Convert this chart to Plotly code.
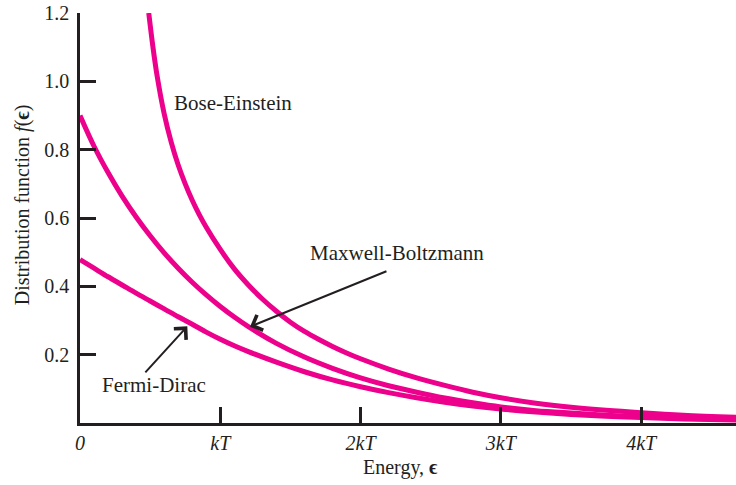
import plotly.graph_objects as go

# Energy in units of kT, distribution values
be_x = [0.49, 0.52, 0.55, 0.60, 0.65, 0.70, 0.75, 0.80, 0.85, 0.90, 1.00, 1.10, 1.20, 1.30, 1.40, 1.50,
        1.60, 1.70, 1.80, 1.90, 2.00, 2.20, 2.40, 2.60, 2.80, 3.00, 3.25, 3.50, 3.75, 4.00, 4.30, 4.68]
be_y = [1.20, 1.10, 1.015, 0.905, 0.822, 0.755, 0.700, 0.652, 0.610, 0.573, 0.508, 0.451, 0.404, 0.363, 0.327, 0.295,
        0.268, 0.245, 0.224, 0.205, 0.188, 0.158, 0.132, 0.110, 0.090, 0.074, 0.058, 0.046, 0.037, 0.030, 0.023, 0.017]

mb_x = [0.00, 0.10, 0.20, 0.30, 0.40, 0.50, 0.60, 0.70, 0.80, 0.90, 1.00, 1.10, 1.20, 1.40, 1.60,
        1.80, 2.00, 2.20, 2.40, 2.60, 2.80, 3.00, 3.25, 3.50, 3.75, 4.00, 4.30, 4.68]
mb_y = [0.900, 0.810, 0.733, 0.664, 0.603, 0.548, 0.498, 0.453, 0.412, 0.375, 0.341, 0.310, 0.282, 0.233, 0.193,
        0.160, 0.132, 0.109, 0.090, 0.073, 0.059, 0.047, 0.036, 0.029, 0.023, 0.018, 0.014, 0.010]

fd_x = [0.00, 0.10, 0.20, 0.30, 0.40, 0.50, 0.60, 0.70, 0.80, 0.90, 1.00, 1.10, 1.20, 1.40, 1.60,
        1.80, 2.00, 2.20, 2.40, 2.60, 2.80, 3.00, 3.25, 3.50, 3.75, 4.00, 4.30, 4.68]
fd_y = [0.478, 0.453, 0.428, 0.404, 0.380, 0.357, 0.334, 0.311, 0.289, 0.266, 0.245, 0.226, 0.209, 0.178, 0.150,
        0.126, 0.106, 0.089, 0.074, 0.061, 0.050, 0.041, 0.032, 0.025, 0.020, 0.016, 0.012, 0.009]

x_tickvals = [0, 1, 2, 3, 4]
x_ticktext = ["<i>0</i>", "<i>kT</i>", "<i>2kT</i>", "<i>3kT</i>", "<i>4kT</i>"]
y_tickvals = [0.2, 0.4, 0.6, 0.8, 1.0, 1.2]
y_ticktext = ["0.2", "0.4", "0.6", "0.8", "1.0", "1.2"]

MAG = "#EC008C"
INK = "#231F20"
FONT = "Liberation Serif"

fig = go.Figure()
for xs, ys, nm in [(be_x, be_y, "Bose-Einstein"), (mb_x, mb_y, "Maxwell-Boltzmann"), (fd_x, fd_y, "Fermi-Dirac")]:
    fig.add_trace(go.Scatter(x=xs, y=ys, mode="lines", name=nm,
                             line=dict(color=MAG, width=5, shape="spline", smoothing=1.0),
                             cliponaxis=True, hoverinfo="skip"))

axis_common = dict(showgrid=False, zeroline=False, showline=True, linecolor=INK, linewidth=2.5,
                   ticks="inside", ticklen=16, tickwidth=2.5, tickcolor=INK, automargin=False,
                   tickfont=dict(family=FONT, size=20, color=INK))

fig.update_layout(
    width=736, height=485,
    margin=dict(l=80, r=0, t=13, b=62),
    paper_bgcolor="white", plot_bgcolor="white",
    showlegend=False,
    font=dict(family=FONT, size=20, color=INK),
    xaxis=dict(range=[0, 4.676], tickvals=x_tickvals, ticktext=x_ticktext, **axis_common),
    yaxis=dict(range=[0, 1.2], tickvals=y_tickvals, ticktext=y_ticktext, ticklabelstandoff=4, **axis_common),
)

annotations = [
    dict(text="Bose-Einstein", x=172, y=103),
    dict(text="Maxwell-Boltzmann", x=308, y=253),
    dict(text="Fermi-Dirac", x=100, y=385),
]
for a in annotations:
    fig.add_annotation(text=a["text"], xref="paper", yref="paper",
                       x=(a["x"] - 80) / 656, y=(422.5 - a["y"]) / 409.5,
                       xanchor="left", yanchor="middle", showarrow=False,
                       font=dict(family=FONT, size=21, color=INK))

# axis titles
fig.add_annotation(text="Distribution function <i>f</i>(<b>ϵ</b>)", xref="paper", yref="paper",
                   x=(22 - 80) / 656, y=(422.5 - 205) / 409.5, textangle=-90,
                   xanchor="center", yanchor="middle", showarrow=False,
                   font=dict(family=FONT, size=20, color=INK))
fig.add_annotation(text="Energy, <b>ϵ</b>", xref="paper", yref="paper",
                   x=(400 - 80) / 656, y=(422.5 - 467) / 409.5,
                   xanchor="center", yanchor="middle", showarrow=False,
                   font=dict(family=FONT, size=20, color=INK))

# arrows (data coordinates)
arrows = [
    dict(x=1.212, y=0.282, ax=2.195, ay=0.446),
    dict(x=0.765, y=0.283, ax=0.456, ay=0.144),
]
for ar in arrows:
    fig.add_annotation(x=ar["x"], y=ar["y"], ax=ar["ax"], ay=ar["ay"],
                       xref="x", yref="y", axref="x", ayref="y", text="",
                       showarrow=True, arrowhead=4, arrowsize=1.6, arrowwidth=2,
                       arrowcolor=INK)

fig.write_html("out.html", config={"displayModeBar": False},
               post_script="document.body.style.margin='0';document.body.style.padding='0';")
